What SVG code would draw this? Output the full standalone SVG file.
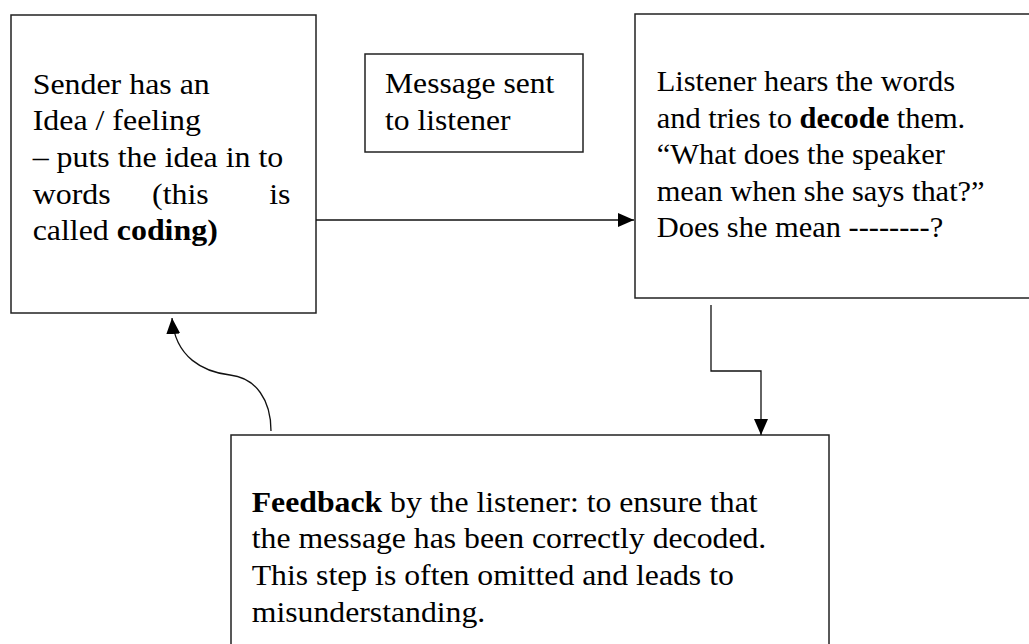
<svg xmlns="http://www.w3.org/2000/svg" width="1029" height="644" viewBox="0 0 1029 644">
  <style>
    .box { fill: #ffffff; stroke: #222222; stroke-width: 1.5; }
    .link { fill: none; stroke: #111111; stroke-width: 1.3; }
    .t { font-family: "Liberation Serif", "Times New Roman", serif; font-size: 29px; fill: #000000; }
    .b { font-weight: bold; }
  </style>
  <defs>
    <marker id="arrow" viewBox="0 0 16 14" refX="16" refY="7" markerWidth="16" markerHeight="14" markerUnits="userSpaceOnUse" orient="auto">
      <path d="M0,0 L16,7 L0,14 z" fill="#000000"/>
    </marker>
  </defs>
  <rect width="1029" height="644" fill="#ffffff"/>

  <!-- Sender -->
  <g id="sender">
    <rect class="box" x="11" y="15" width="305" height="298"/>
    <text class="t" transform="translate(32.7,93.5) scale(1.1,1)">
      <tspan x="0" y="0">Sender has an</tspan>
      <tspan x="0" y="36.7">Idea / feeling</tspan>
      <tspan x="0" y="73.4">– puts the idea in to</tspan>
      <tspan x="0" y="110.1">words</tspan><tspan x="108.5" y="110.1">(this</tspan><tspan x="215" y="110.1">is</tspan>
      <tspan x="0" y="146.8">called <tspan class="b">coding)</tspan></tspan>
    </text>
  </g>

  <!-- Message -->
  <g id="message">
    <rect class="box" x="365" y="54" width="218" height="98"/>
    <text class="t" transform="translate(385,93.3) scale(1.09,1)">
      <tspan x="0" y="0">Message sent</tspan>
      <tspan x="0" y="36.7">to listener</tspan>
    </text>
  </g>

  <!-- Listener -->
  <g id="listener">
    <rect class="box" x="635" y="14" width="420" height="284"/>
    <text class="t" transform="translate(656.7,91) scale(1.05,1)">
      <tspan x="0" y="0">Listener hears the words</tspan>
      <tspan x="0" y="36.6">and tries to <tspan class="b">decode</tspan> them.</tspan>
      <tspan x="0" y="73.2">“What does the speaker</tspan>
      <tspan x="0" y="109.8">mean when she says that?”</tspan>
      <tspan x="0" y="146.4">Does she mean --------?</tspan>
    </text>
  </g>

  <!-- Feedback -->
  <g id="feedback">
    <rect class="box" x="231" y="435" width="598" height="260"/>
    <text class="t" transform="translate(251.7,511.7) scale(1.095,1)">
      <tspan x="0" y="0"><tspan class="b">Feedback</tspan> by the listener: to ensure that</tspan>
      <tspan x="0" y="36.7">the message has been correctly decoded.</tspan>
      <tspan x="0" y="73.4">This step is often omitted and leads to</tspan>
      <tspan x="0" y="110.1">misunderstanding.</tspan>
    </text>
  </g>

  <!-- Connectors -->
  <g id="connectors">
    <path class="link" d="M316,220 H634" marker-end="url(#arrow)"/>
    <path class="link" d="M711,305 V371 H761 V435" marker-end="url(#arrow)"/>
    <path class="link" d="M271,431 C271,400 256,378 230,375 C204,372 175,358 172,318" marker-end="url(#arrow)"/>
  </g>
</svg>
